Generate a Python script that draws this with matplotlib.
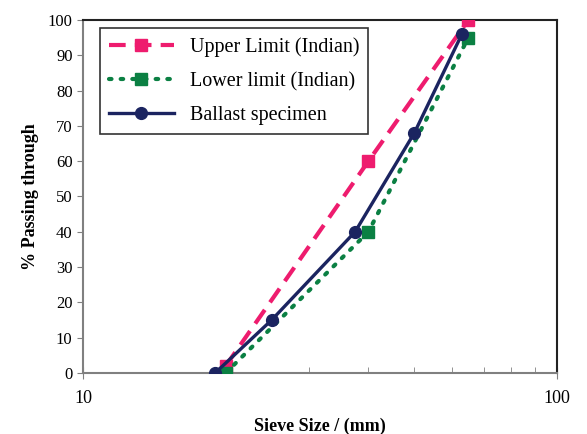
import numpy as np
import matplotlib.pyplot as plt
from matplotlib.ticker import NullFormatter, FixedLocator

plt.rcParams['font.family'] = ['Liberation Serif', 'DejaVu Serif']

# sieve sizes (mm) and % passing
upper_x = [20, 40, 65]
upper_y = [2, 60, 100]
lower_x = [20, 40, 65]
lower_y = [0, 40, 95]
ballast_x = [19, 25, 37.5, 50, 63]
ballast_y = [0, 15, 40, 68, 96]

fig = plt.figure(figsize=(5.87, 4.34), dpi=100)
ax = fig.add_axes([0.1414, 0.1406, 0.8076, 0.8134])

ax.plot(upper_x, upper_y, color='#ee1c6e', ls=(0, (4, 2.2)), lw=3,
        marker='s', ms=8, label="Upper Limit (Indian)", zorder=3)
ax.plot(lower_x, lower_y, color='#0b8043', ls=(0, (0.6, 2.2)), lw=3,
        dash_capstyle='round', marker='s', ms=8,
        label="Lower limit (Indian)", zorder=3)
ax.plot(ballast_x, ballast_y, color='#1b2460', lw=2.4, marker='o', ms=8.5,
        label="Ballast specimen", zorder=4)

ax.set_xscale('log')
ax.set_xlim(10, 100)
ax.set_ylim(0, 100)
ax.xaxis.set_major_locator(FixedLocator([10, 100]))
ax.xaxis.set_major_formatter(plt.FixedFormatter(['10', '100']))
ax.xaxis.set_minor_locator(FixedLocator(range(20, 100, 10)))
ax.xaxis.set_minor_formatter(NullFormatter())
ax.set_yticks(range(0, 101, 10))

ax.tick_params(axis='x', which='minor', direction='in', length=4,
               color='#808080')
ax.tick_params(axis='x', which='major', direction='inout', length=8,
               color='#808080', labelsize=13, pad=8)
ax.tick_params(axis='y', direction='out', length=4, color='#808080',
               labelsize=12)

for s in ['left', 'bottom']:
    ax.spines[s].set_color('#808080')
    ax.spines[s].set_linewidth(1.5)
for s in ['top', 'right']:
    ax.spines[s].set_color('#222222')
    ax.spines[s].set_linewidth(1.5)

ax.set_xlabel("Sieve Size / (mm)", fontsize=13, fontweight='bold', labelpad=8)
ax.set_ylabel("% Passing through", fontsize=13, fontweight='bold',
              labelpad=6)

leg = ax.legend(loc='upper left', bbox_to_anchor=(0.036, 0.977),
                fontsize=14.5, frameon=True, fancybox=False,
                edgecolor='black', handlelength=3.2, borderpad=0.45,
                labelspacing=0.75, borderaxespad=0)
leg.get_frame().set_linewidth(1.2)

fig.savefig("out.png", dpi=100)
